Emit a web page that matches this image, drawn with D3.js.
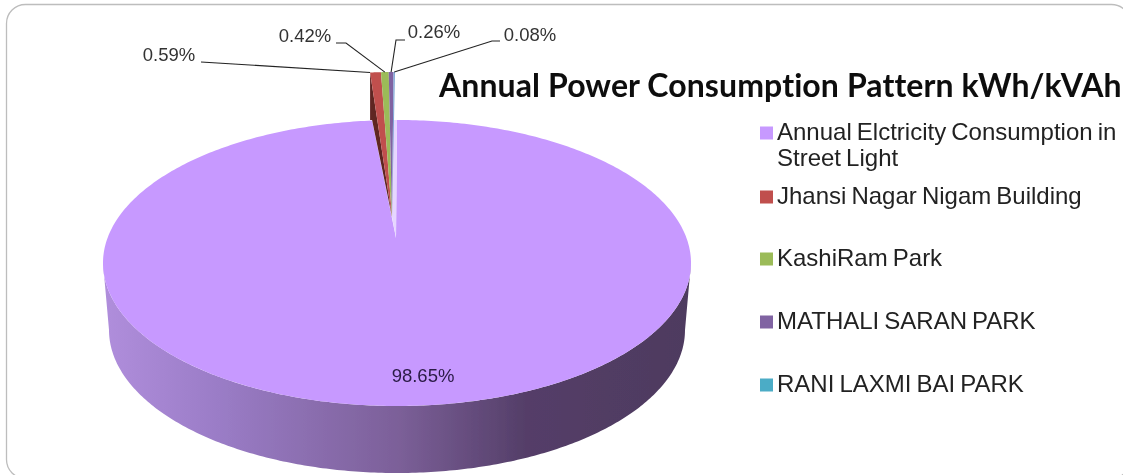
<!DOCTYPE html>
<html><head><meta charset="utf-8">
<script src="https://cdn.jsdelivr.net/npm/d3@7"></script>
<style>html,body{margin:0;padding:0;background:#fff}svg{display:block}</style>
</head><body><svg id="c" width="1123" height="475"></svg>
<script>
const titleText = "Annual Power Consumption Pattern kWh/kVAh";
const categories = ["Annual Elctricity Consumption in|Street Light","Jhansi Nagar Nigam Building","KashiRam Park","MATHALI SARAN PARK","RANI LAXMI BAI PARK"];
const values = [98.65,0.59,0.42,0.26,0.08];
const valueLabels = ["98.65%","0.59%","0.42%","0.26%","0.08%"];
const colors = ["#C799FF","#C0504D","#9BBB59","#8064A2","#7FA6D6"];
const legendColors = ["#C799FF","#C0504D","#9BBB59","#8064A2","#4BACC6"];
const darkColors = ["#6b4d8c","#5e2523","#55692f","#3f3153","#3d6d80"];
const legendY = [133,197,259,322,385];
const labelPos = [[423,377],[169,56],[305,37],[434,33],[530,36]];
const elbows = [null,[[201,62]],[[336,43],[346,43]],[[405,40],[396,40]],[[500,41],[492,41]]];

const svg = d3.select("#c");
const defs = svg.append("defs");
const g = defs.append("linearGradient").attr("id","wall");
[[0,"#B08EDC"],[.2,"#9A7CC6"],[.5,"#7C6099"],[.72,"#543E68"],[1,"#4E3A5F"]].forEach(s=>g.append("stop").attr("offset",s[0]).attr("stop-color",s[1]));
defs.append("filter").attr("id","soft").append("feGaussianBlur").attr("stdDeviation",0.5);

svg.append("rect").attr("x",6.5).attr("y",4.5).attr("width",1124).attr("height",474).attr("rx",19)
  .attr("fill","#fff").attr("stroke","#bdbdbd").attr("stroke-width",1.3);

const root = svg.append("g").attr("filter","url(#soft)");
const arcs = d3.pie().sort(null).value(d=>d).startAngle(0).endAngle(2*Math.PI)(values);

const main = {cx:397,cy:263,rx:294,ry:143,apex:[396,238]};
const floor = {cx:397,cy:330,rx:288,ry:143};
const burst = {cx:395,cy:215,rx:294,ry:143,apex:[392,217]};
const pt = (o,a)=>[o.cx+o.rx*Math.sin(a),o.cy-o.ry*Math.cos(a)];
const line = d3.line();
const sample = (a0,a1,n=240)=>d3.range(n+1).map(i=>a0+(a1-a0)*i/n);

// side wall of main slice
const lower = sample(Math.PI/2,3*Math.PI/2);
const wallPts = lower.map(a=>pt(main,a)).concat(lower.slice().reverse().map(a=>pt(floor,a)));
root.append("path").attr("d",line(wallPts)+"Z").attr("fill","url(#wall)");

// top of main slice
const m = arcs[0];
root.append("path").attr("d",line(sample(m.startAngle,m.endAngle,480).map(a=>pt(main,a)).concat([main.apex]))+"Z").attr("fill",colors[0]);

// pale inner edge between the exploded slices and the main slice
const s0 = pt(main,m.startAngle);
root.append("path").attr("d",line([[s0[0]-4,s0[1]],s0,main.apex,burst.apex])+"Z").attr("fill","#E6D6FF");

// cut wall of the exploded group
const first = arcs[1];
const e0 = pt(burst,first.startAngle);
root.append("path").attr("d",line([e0,[e0[0],120],[e0[0]+2,120],burst.apex])+"Z").attr("fill",darkColors[1]);

// exploded small slices
arcs.slice(1).forEach((d,i)=>{
  const pts = sample(d.startAngle,d.endAngle,8).map(a=>pt(burst,a)).concat([burst.apex]);
  root.append("path").attr("d",line(pts)+"Z").attr("fill",colors[i+1]);
});

// leader lines
arcs.slice(1).forEach((d,i)=>{
  const end = pt(burst,(d.startAngle+d.endAngle)/2);
  const anchor = i===0 ? pt(burst,d.startAngle) : end;
  root.append("path").attr("d",line(elbows[i+1].concat([[anchor[0],anchor[1]]])))
    .attr("fill","none").attr("stroke","#222").attr("stroke-width",1.1);
});

const txt = svg.append("g").attr("filter","url(#soft)").attr("font-family","'Liberation Sans',Arial,sans-serif");
valueLabels.forEach((t,i)=>{
  txt.append("text").attr("x",labelPos[i][0]).attr("y",labelPos[i][1]).attr("text-anchor","middle")
    .attr("dominant-baseline","middle").attr("font-size",18.5).attr("fill",i===0?"#2a1a45":"#333").text(t);
});
txt.append("text").attr("x",439).attr("y",97).attr("font-family","Lato,sans-serif").attr("font-weight",700)
  .attr("font-size",32).attr("letter-spacing",0.1).attr("fill","#0b0b0b").text(titleText);

const sw = 13;
categories.forEach((c,i)=>{
  txt.append("rect").attr("x",760).attr("y",legendY[i]-sw/2).attr("width",sw).attr("height",sw).attr("fill",legendColors[i]);
  c.split("|").forEach((l,j)=>{
    txt.append("text").attr("x",777).attr("y",legendY[i]+1+j*26).attr("dominant-baseline","middle")
      .attr("font-size",24).attr("word-spacing",-1.6).attr("fill","#222").text(l);
  });
});
</script></body></html>
